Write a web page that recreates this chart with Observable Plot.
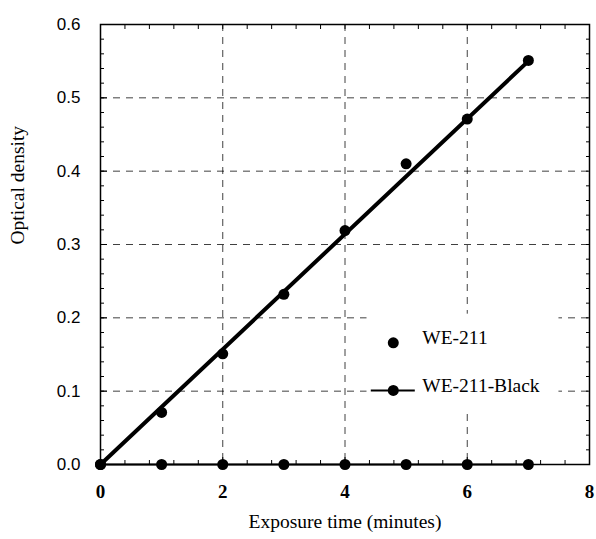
<!DOCTYPE html>
<html>
<head>
<meta charset="utf-8">
<script src="https://cdn.jsdelivr.net/npm/d3@7"></script>
<script src="https://cdn.jsdelivr.net/npm/@observablehq/plot@0.6"></script>
<style>
  body { margin: 0; background: #fff; }
</style>
</head>
<body>
<div id="chart"></div>
<script>
// Data
const exposure = [0, 1, 2, 3, 4, 5, 6, 7];
const we211 = [0, 0.071, 0.151, 0.232, 0.319, 0.41, 0.471, 0.551];
const we211Black = [0, 0, 0, 0, 0, 0, 0, 0];
const fitX = [0, 7];
const fitY = [0, 0.55];
const xTicks = [0, 2, 4, 6, 8];
const yTicks = [0, 0.1, 0.2, 0.3, 0.4, 0.5, 0.6];
const xMinor = d3.range(0, 8.01, 0.4);
const yMinor = d3.range(0, 0.601, 0.02);
const legendNames = ["WE-211", "WE-211-Black"];
const xTitle = "Exposure time (minutes)";
const yTitle = "Optical density";
// legend anchors (in data space)
const legendX = [4.79, 4.79];
const legendY = [0.166, 0.101];

const pts = exposure.map((x, i) => ({x, y: we211[i]}));
const blk = exposure.map((x, i) => ({x, y: we211Black[i]}));
const fit = fitX.map((x, i) => ({x, y: fitY[i]}));
const legend = legendNames.map((name, i) => ({name, x: legendX[i], y: legendY[i], line: i === 1}));

const serif = "'Liberation Serif', 'Times New Roman', serif";
const sans = "'Liberation Sans', Arial, sans-serif";

const chart = Plot.plot({
  width: 596,
  height: 539,
  marginLeft: 100,
  marginRight: 7,
  marginTop: 24,
  marginBottom: 75,
  style: {fontFamily: serif, fontSize: "19px", color: "#000", background: "#fff"},
  x: {domain: [0, 8], label: null},
  y: {domain: [0, 0.6], label: null},
  marks: [
    Plot.gridX([2, 4, 6], {stroke: "#000", strokeOpacity: 0.75, strokeDasharray: "7,6", strokeWidth: 1}),
    Plot.gridY([0.1, 0.2, 0.3, 0.4, 0.5], {stroke: "#000", strokeOpacity: 0.75, strokeDasharray: "7,6", strokeWidth: 1}),
    // minor inward ticks
    Plot.axisX({anchor: "bottom", ticks: xMinor, tickSize: -4, tickFormat: () => "", label: null}),
    Plot.axisX({anchor: "top", ticks: xMinor, tickSize: -4, tickFormat: () => "", label: null}),
    Plot.axisY({anchor: "left", ticks: yMinor, tickSize: -4, tickFormat: () => "", label: null}),
    Plot.axisY({anchor: "right", ticks: yMinor, tickSize: -4, tickFormat: () => "", label: null}),
    // major inward ticks + labels
    Plot.axisX({anchor: "bottom", ticks: xTicks, tickSize: -7, tickPadding: 27, fontSize: 19,
      fontFamily: serif, fontWeight: "bold", label: null}),
    Plot.axisY({anchor: "left", ticks: yTicks, tickSize: -7, tickPadding: 27, fontSize: 17,
      fontFamily: sans, tickFormat: d3.format(".1f"), label: null}),
    Plot.frame({stroke: "#000", strokeWidth: 1.5}),
    // axis titles
    Plot.text([xTitle], {frameAnchor: "bottom", dy: 63, fontSize: 19.5, fontFamily: serif}),
    Plot.text([yTitle], {frameAnchor: "left", dx: -83, rotate: -90, fontSize: 19.5, fontFamily: serif}),
    // series
    Plot.line(blk, {x: "x", y: "y", stroke: "#000", strokeWidth: 2}),
    Plot.dot(blk, {x: "x", y: "y", r: 5.5, fill: "#000"}),
    Plot.line(fit, {x: "x", y: "y", stroke: "#000", strokeWidth: 4}),
    Plot.dot(pts, {x: "x", y: "y", r: 5.5, fill: "#000"}),
    // legend
    Plot.rect([0], {x1: 4.36, x2: 7.5, y1: 0.074, y2: 0.205, fill: "#fff"}),
    Plot.ruleY(legend.filter(d => d.line), {y: "y", x1: d => d.x - 0.36, x2: d => d.x + 0.36, stroke: "#000", strokeWidth: 2}),
    Plot.dot(legend, {x: "x", y: "y", r: 5.5, fill: "#000"}),
    Plot.text(legend, {x: "x", y: "y", text: "name", dx: 29, dy: -5, textAnchor: "start", fontSize: 19.5, fontFamily: serif})
  ]
});
document.getElementById("chart").appendChild(chart);
</script>
</body>
</html>
